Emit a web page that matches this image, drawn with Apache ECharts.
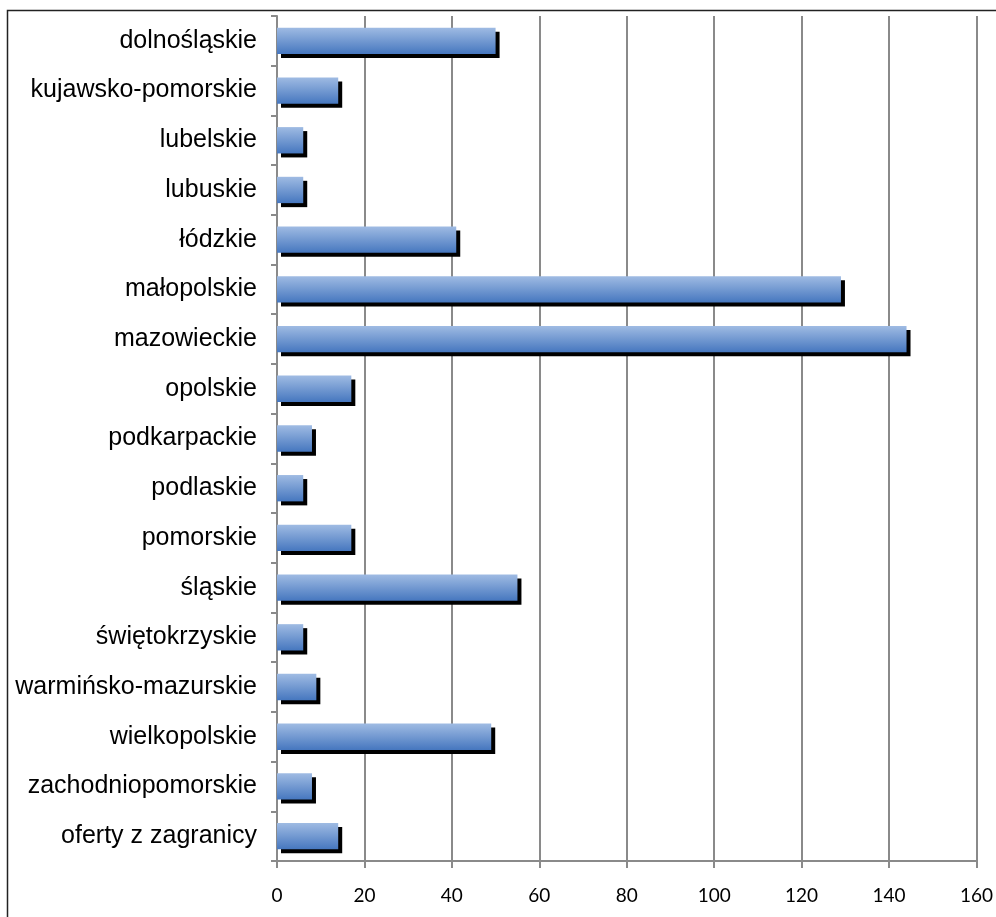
<!DOCTYPE html>
<html>
<head>
<meta charset="utf-8">
<script src="https://cdn.jsdelivr.net/npm/echarts@6/dist/echarts.min.js"></script>
<style>
  html, body { margin: 0; padding: 0; background: #fff; }
  #chart { width: 996px; height: 917px; }
</style>
</head>
<body>
<div id="chart"></div>
<script>
// Województwa (regions) in display order, top to bottom
const categories = [
  'dolnośląskie', 'kujawsko-pomorskie', 'lubelskie', 'lubuskie', 'łódzkie',
  'małopolskie', 'mazowieckie', 'opolskie', 'podkarpackie', 'podlaskie',
  'pomorskie', 'śląskie', 'świętokrzyskie', 'warmińsko-mazurskie',
  'wielkopolskie', 'zachodniopomorskie', 'oferty z zagranicy'
];

// Number of offers per region
const offers = [50, 14, 6, 6, 41, 129, 144, 17, 8, 6, 17, 55, 6, 9, 49, 8, 14];

// Value axis range and step
const xMin = 0;
const xMax = 160;
const xStep = 20;

const chart = echarts.init(document.getElementById('chart'), null, { renderer: 'canvas' });

const gridColor = '#8a8a8a';

chart.setOption({
  backgroundColor: '#ffffff',
  animation: false,
  grid: { left: 277, right: 17, top: 16, bottom: 56, containLabel: false },
  graphic: [{
    type: 'rect',
    shape: { x: 7.5, y: 10.5, width: 1200, height: 1200 },
    style: { fill: 'none', stroke: '#222', lineWidth: 1.5 },
    z: 100
  }],
  xAxis: {
    type: 'value',
    min: xMin, max: xMax, interval: xStep,
    axisLine: { show: true, lineStyle: { color: gridColor, width: 2 } },
    axisTick: { show: true, length: 7, lineStyle: { color: gridColor, width: 2 } },
    axisLabel: { margin: 25, color: '#000', fontSize: 19, fontFamily: 'Lato, "Open Sans", sans-serif' },
    splitLine: { show: true, lineStyle: { color: gridColor, width: 2 } }
  },
  yAxis: {
    type: 'category',
    data: categories,
    inverse: true,
    axisLine: { show: true, lineStyle: { color: gridColor, width: 2 } },
    axisTick: { show: true, length: 6, lineStyle: { color: gridColor, width: 2 } },
    axisLabel: { margin: 20, color: '#000', fontSize: 25, fontFamily: '"Liberation Sans", Arial, sans-serif' },
    splitLine: { show: false }
  },
  series: [{
    type: 'bar',
    data: offers,
    barCategoryGap: '47%',
    itemStyle: {
      color: new echarts.graphic.LinearGradient(0, 0, 0, 1, [
        { offset: 0, color: '#9fbbe3' },
        { offset: 1, color: '#4677bf' }
      ]),
      shadowColor: '#000',
      shadowBlur: 0,
      shadowOffsetX: 4,
      shadowOffsetY: 4
    },
    z: 3
  }]
});
</script>
</body>
</html>
